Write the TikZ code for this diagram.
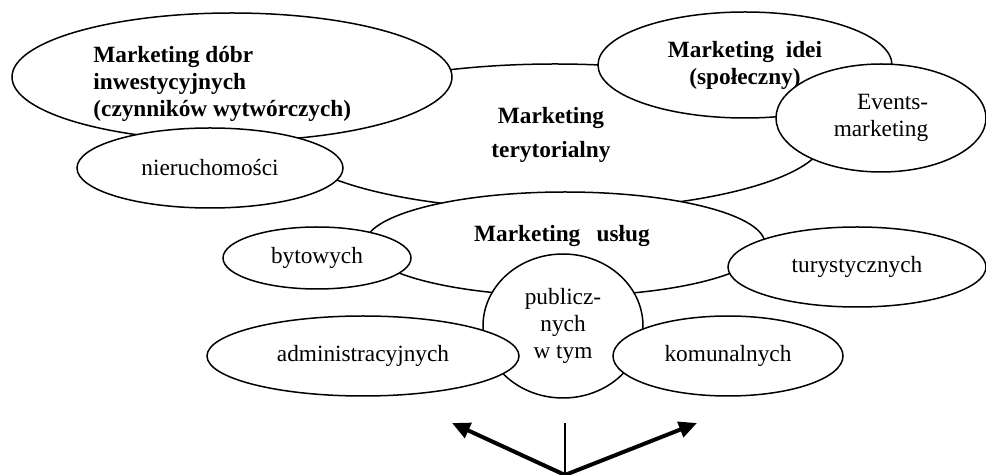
\documentclass[tikz,border=0pt]{standalone}
\usepackage{fontspec}
\setmainfont{Liberation Serif}
\usetikzlibrary{shapes.geometric,arrows.meta}

\begin{document}
\begin{tikzpicture}[x=.5pt,y=-.5pt,
    oval/.style={ellipse, draw, fill=white, line width=.75pt, inner sep=0pt,
      font=\fontsize{11.65}{13.3}\selectfont, align=center},
    bold text/.style={font=\fontsize{11.65}{13.3}\selectfont\bfseries, inner sep=0pt},
    big arrow/.style={line width=2pt, -{Triangle[length=9pt,width=8pt]}}]
  \useasboundingbox (0,0) rectangle (986,475);

  % marketing terytorialny (w tle)
  \node[oval, minimum width=270pt, minimum height=73pt] (teryt) at (555,137) {};
  \node[bold text, align=center] (terytlab) at (551,135) {Marketing\\[3.7pt] terytorialny};

  % dobra inwestycyjne
  \node[oval, minimum width=220pt, minimum height=64pt] (dobra) at (232,77) {};
  \node[bold text, align=left, anchor=west] (dobralab) at (93,84)
    {Marketing dóbr\\ inwestycyjnych\\ (czynników wytwórczych)};
  \node[oval, minimum width=133pt, minimum height=40pt] (nieruch) at (210,168) {nieruchomości};

  % idee
  \node[oval, minimum width=147pt, minimum height=53pt, font=\fontsize{11.65}{13.5}\selectfont\bfseries]
    (idei) at (745,65) {Marketing\ \ idei\\ (społeczny)};
  \node[oval, minimum width=105pt, minimum height=54pt, align=right] (events) at (881,118)
    {Events-\\ marketing};

  % uslugi
  \node[oval, minimum width=200pt, minimum height=52pt] (uslugi) at (565,244) {};
  \node[bold text] (uslugilab) at (562,236) {Marketing\hspace{.7em}usług};
  \node[oval, minimum width=94pt, minimum height=31pt] (bytowe) at (317,258) {bytowych};
  \node[oval, minimum width=129pt, minimum height=40pt] (turyst) at (857,267) {turystycznych};
  \node[oval, minimum width=80pt, minimum height=72pt] (publ) at (563,326) {publicz-\\ nych\\ w tym};
  \node[oval, minimum width=156pt, minimum height=40pt] (admin) at (363,356) {administracyjnych};
  \node[oval, minimum width=115pt, minimum height=40pt] (komun) at (728,356) {komunalnych};

  % strzalki
  \coordinate (root) at (565,475);
  \coordinate (stem) at (565,423);
  \coordinate (lefttip) at (452,423);
  \coordinate (righttip) at (697,423);
  \draw[line width=.65pt] (root) -- (stem);
  \draw[big arrow] (root) -- (lefttip);
  \draw[big arrow] (root) -- (righttip);
\end{tikzpicture}
\end{document}
